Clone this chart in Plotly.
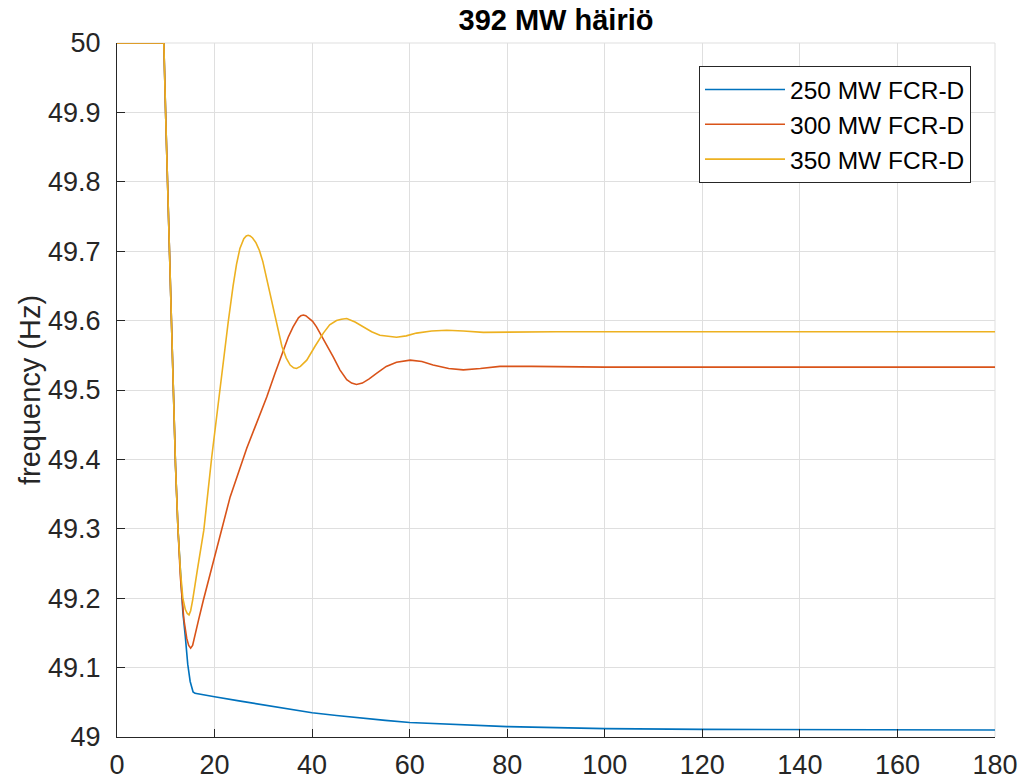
import plotly.graph_objects as go

# ---- data ----
t_250 = [0, 9.0, 9.6, 10.0, 10.5, 11.0, 11.5, 12.0, 12.5, 13.0, 13.5, 14.0, 14.5, 15.0, 15.3, 15.6, 16.0,
         17, 20, 25, 30, 35, 40, 45, 50, 55, 60, 70, 80, 90, 100, 120, 140, 160, 180]
f_250 = [50, 50, 50, 49.89, 49.76, 49.63, 49.50, 49.39, 49.30, 49.23, 49.18, 49.145, 49.105, 49.08, 49.07, 49.065, 49.063,
         49.062, 49.058, 49.052, 49.046, 49.040, 49.035, 49.031, 49.027, 49.024, 49.021, 49.018, 49.015, 49.0135, 49.012, 49.011, 49.0105, 49.010, 49.010]

t_300 = [0, 9.0, 9.6, 10.0, 10.5, 11.0, 11.5, 12.0, 12.5, 13.0, 13.7, 14.3, 14.7, 15.1, 15.5, 15.8, 16.7, 17.7, 20.0,
         23.2, 26.6, 28.6, 30.7, 32.4, 34.1, 35.1, 36.1, 36.7, 37.2, 37.7, 38.2, 38.7, 39.3, 40.1, 40.9, 42.6, 44.3, 45.7, 47.1,
         48.1, 49.1, 50.3, 51.7, 53.2, 55.2, 57.3, 58.7, 60.1, 62.5, 64.8, 68.0, 71.0, 74.5, 78.5, 85, 100, 130, 160, 180]
f_300 = [50, 50, 50, 49.89, 49.76, 49.63, 49.50, 49.39, 49.30, 49.23, 49.17, 49.142, 49.132, 49.128, 49.132, 49.14, 49.168, 49.197, 49.26,
         49.346, 49.416, 49.452, 49.490, 49.524, 49.558, 49.576, 49.591, 49.599, 49.604, 49.607, 49.608, 49.607, 49.604, 49.599, 49.591, 49.570, 49.548, 49.529, 49.515,
         49.510, 49.508, 49.510, 49.516, 49.524, 49.534, 49.540, 49.542, 49.543, 49.541, 49.536, 49.531, 49.529, 49.531, 49.534, 49.534, 49.533, 49.533, 49.533, 49.533]

t_350 = [0, 9.0, 9.6, 10.0, 10.5, 11.0, 11.5, 12.0, 12.5, 13.0, 13.5, 14.0, 14.4, 14.76, 15.1, 15.5, 16.5, 17.8,
         19.4, 20.8, 21.8, 22.8, 23.8, 24.5, 25.2, 26.0, 26.5, 26.9, 27.3, 27.8, 28.5, 29.2, 29.9, 30.6, 31.4, 32.6,
         33.8, 34.7, 35.5, 36.2, 36.8, 37.6, 38.9, 40.6, 42.3, 43.6, 45.0, 46.0, 47.1, 48.8, 50.5, 52.2, 53.9, 55.6, 57.3,
         59.3, 61.4, 64.5, 67.6, 71.0, 75.1, 90, 120, 150, 180]
f_350 = [50, 50, 50, 49.89, 49.76, 49.63, 49.50, 49.39, 49.30, 49.24, 49.20, 49.184, 49.178, 49.176, 49.182, 49.197, 49.242, 49.298,
         49.402, 49.485, 49.541, 49.598, 49.650, 49.681, 49.704, 49.718, 49.722, 49.723, 49.722, 49.719, 49.712, 49.701, 49.685, 49.663, 49.636, 49.598,
         49.563, 49.546, 49.536, 49.532, 49.531, 49.534, 49.543, 49.563, 49.582, 49.594, 49.600, 49.602, 49.603, 49.598, 49.591, 49.584, 49.579, 49.577, 49.576,
         49.578, 49.582, 49.585, 49.586, 49.585, 49.583, 49.584, 49.584, 49.584, 49.584]

series_names = ["250 MW FCR-D", "300 MW FCR-D", "350 MW FCR-D"]
series_colors = ["#0072BD", "#D95319", "#EDB120"]

x_ticks = [0, 20, 40, 60, 80, 100, 120, 140, 160, 180]
y_ticks = [49, 49.1, 49.2, 49.3, 49.4, 49.5, 49.6, 49.7, 49.8, 49.9, 50]
y_tick_labels = ["49", "49.1", "49.2", "49.3", "49.4", "49.5", "49.6", "49.7", "49.8", "49.9", "50"]

title_text = "392 MW häiriö"
y_title = "frequency (Hz)"

FONT = "Liberation Sans, Arial, Helvetica, sans-serif"

# plot area in pixels
L, R, T, B = 117, 995, 43, 737
W_PX, H_PX = R - L, B - T

fig = go.Figure()
for (tx, fy, name, col) in [(t_250, f_250, series_names[0], series_colors[0]),
                            (t_300, f_300, series_names[1], series_colors[1]),
                            (t_350, f_350, series_names[2], series_colors[2])]:
    fig.add_trace(go.Scatter(x=tx, y=fy, mode="lines", name=name,
                             line=dict(color=col, width=1.6, shape="linear")))

fig.update_layout(
    width=1024, height=782,
    margin=dict(l=L, r=1024 - R, t=T, b=782 - B),
    paper_bgcolor="white", plot_bgcolor="white",
    font=dict(family=FONT, size=27, color="#262626"),
    title=dict(text="<b>" + title_text + "</b>", x=556 / 1024, xanchor="center",
               y=1 - 20 / 782, yanchor="middle", yref="container",
               font=dict(family=FONT, size=29, color="black")),
    showlegend=True,
    legend=dict(x=(699 - L) / W_PX, y=1 - (66 - T) / H_PX, xanchor="left", yanchor="top",
                bgcolor="white", bordercolor="#262626", borderwidth=1,
                font=dict(family=FONT, size=24.5, color="black"),
                itemwidth=80, tracegroupgap=0),
)
fig.update_xaxes(range=[0, 180], tickvals=x_ticks, ticks="inside", ticklen=8, tickcolor="#262626",
                 showline=True, linecolor="#262626", linewidth=1, mirror=False, automargin=False,
                 showgrid=True, gridcolor="#dfdfdf", gridwidth=1, zeroline=False,
                 ticklabelstandoff=4, tickfont=dict(size=27, color="#262626"))
fig.update_yaxes(range=[49, 50], tickvals=y_ticks, ticktext=y_tick_labels, ticks="inside", ticklen=8,
                 tickcolor="#262626", showline=True, linecolor="#262626", linewidth=1, mirror=False,
                 automargin=False, showgrid=True, gridcolor="#dfdfdf", gridwidth=1, zeroline=False,
                 ticklabelstandoff=10, tickfont=dict(size=27, color="#262626"))
fig.add_annotation(text=y_title, xref="paper", yref="paper", x=(30 - L) / W_PX, y=0.5,
                   xanchor="center", yanchor="middle", textangle=-90, showarrow=False,
                   font=dict(family=FONT, size=29, color="#262626"))
# light border on top/right like the reference grid
fig.add_shape(type="line", xref="paper", yref="paper", x0=0, x1=1, y0=1, y1=1,
              line=dict(color="#dfdfdf", width=1), layer="below")
fig.add_shape(type="line", xref="paper", yref="paper", x0=1, x1=1, y0=0, y1=1,
              line=dict(color="#dfdfdf", width=1), layer="below")

fig.write_html("out.html")
